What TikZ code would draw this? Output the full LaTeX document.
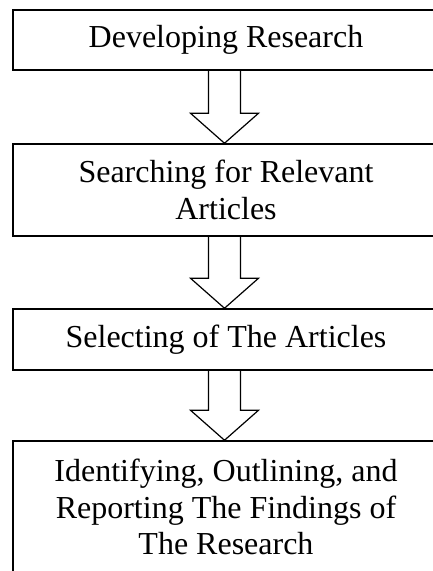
\documentclass[tikz,border=0pt]{standalone}
\usepackage{fontspec}
\setmainfont{Liberation Serif}
\usetikzlibrary{calc}
\tikzset{
  stepbox/.style={draw=black, line width=1.5pt, inner sep=0pt, minimum width=426pt,
    align=center, font=\fontsize{32}{36.5}\selectfont},
  blockarrow/.style={draw=black, line width=1.2pt, line join=miter}
}
\newcommand{\blockarr}[2]{%
  \draw[blockarrow] ($(#1.south)+(-17.5,0)$) -- ($(#2.north)+(-17.5,30)$) -- ($(#2.north)+(-35.5,30)$)
    -- ($(#2.north)+(-1.5,0)$) -- ($(#2.north)+(32.5,30)$) -- ($(#2.north)+(14.5,30)$) -- ($(#1.south)+(14.5,0)$);}
\begin{document}
\begin{tikzpicture}[x=1pt,y=1pt]
\useasboundingbox (0,0) rectangle (432,571);
\node[stepbox, minimum height=60pt] (s1) at (226,531) {Developing Research};
\node[stepbox, minimum height=92pt] (s2) at (226,381) {Searching for Relevant\\Articles};
\node[stepbox, minimum height=61pt] (s3) at (226,231.5) {Selecting of The Articles};
\node[stepbox, minimum height=132pt] (s4) at (226,64) {Identifying, Outlining, and\\Reporting The Findings of\\The Research};
\blockarr{s1}{s2}
\blockarr{s2}{s3}
\blockarr{s3}{s4}
\end{tikzpicture}
\end{document}
